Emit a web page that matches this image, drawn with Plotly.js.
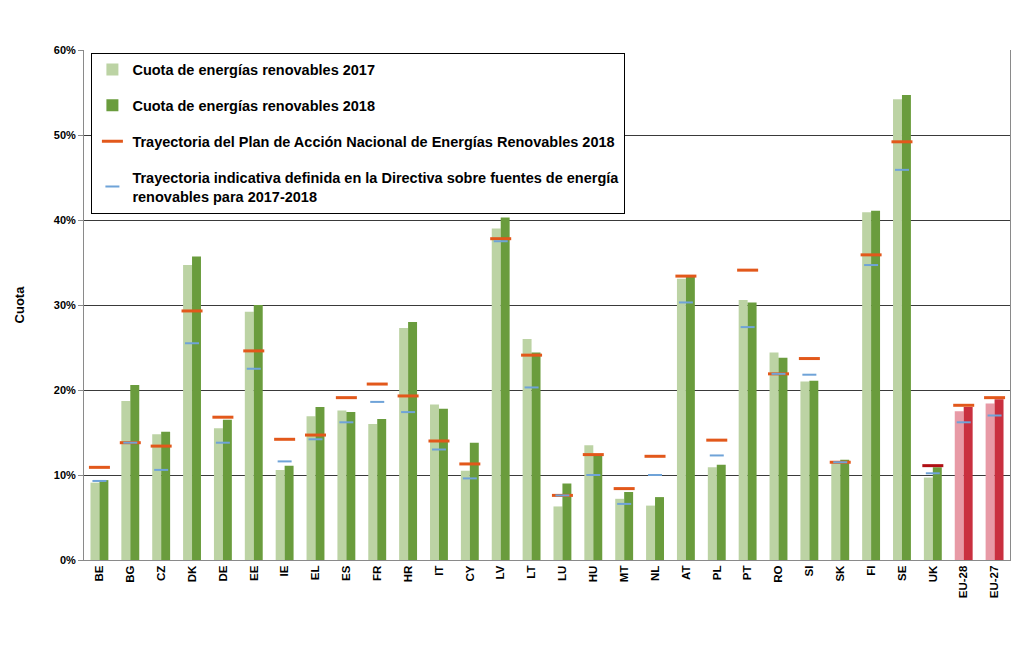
<!DOCTYPE html>
<html>
<head>
<meta charset="utf-8">
<script src="https://cdn.plot.ly/plotly-3.0.1.min.js"></script>
<style>
  html, body { margin: 0; padding: 0; background: #fff; }
  #chart { width: 1024px; height: 669px; }
</style>
</head>
<body>
<div id="chart"></div>
<script>
// países y agregados
var paises = ['BE','BG','CZ','DK','DE','EE','IE','EL','ES','FR','HR','IT','CY','LV','LT','LU','HU','MT','NL','AT','PL','PT','RO','SI','SK','FI','SE','UK','EU-28','EU-27'];

// cuota de renovables (%)
var cuota2017 = [9.1,18.7,14.8,34.7,15.5,29.2,10.6,16.9,17.6,16.0,27.3,18.3,10.5,39.0,26.0,6.3,13.5,7.2,6.4,33.1,10.9,30.6,24.4,21.0,11.5,40.9,54.2,9.7,17.5,18.4];
var cuota2018 = [9.4,20.6,15.1,35.7,16.5,30.0,11.1,18.0,17.4,16.6,28.0,17.8,13.8,40.3,24.4,9.0,12.4,8.0,7.4,33.3,11.2,30.3,23.8,21.1,11.8,41.1,54.7,10.9,18.0,18.9];

// trayectorias 2018 (%)
var trayPANER = [10.9,13.8,13.4,29.3,16.8,24.6,14.2,14.7,19.1,20.7,19.3,14.0,11.3,37.8,24.1,7.6,12.4,8.4,12.2,33.4,14.1,34.1,21.9,23.7,11.5,35.9,49.2,11.1,18.2,19.1];
var trayDirectiva = [9.3,13.8,10.6,25.5,13.8,22.5,11.6,14.2,16.2,18.6,17.4,13.0,9.6,37.5,20.3,7.6,10.0,6.6,10.0,30.3,12.3,27.4,21.9,21.8,11.5,34.7,45.9,10.2,16.2,17.0];

function colores(normal, ue, uk)
{
    var c = [];
    for (var i = 0; i < paises.length; i++)
    {
        if (paises[i].indexOf('EU') === 0) c.push(ue);
        else if (paises[i] === 'UK' && uk) c.push(uk);
        else c.push(normal);
    }
    return c;
}

var fuente = 'Liberation Sans Narrow, Arial Narrow, Liberation Sans, Arial, sans-serif';

var traza2017 = {
    x: paises, y: cuota2017, type: 'bar',
    name: 'Cuota de energías renovables 2017',
    legendgroup: 'a',
    marker: {color: colores('#bcd3a4', '#e89aa6')}
};
var traza2018 = {
    x: paises, y: cuota2018, type: 'bar',
    name: 'Cuota de energías renovables 2018',
    legendgroup: 'b',
    marker: {color: colores('#6a9c3d', '#c9303f')}
};
var trazaPANER = {
    x: paises, y: trayPANER, type: 'scatter', mode: 'markers',
    name: 'Trayectoria del Plan de Acción Nacional de Energías Renovables 2018',
    legendgroup: 'c',
    marker: {symbol: 'line-ew', size: 15, line: {width: 3, color: colores('#e2581b', '#e2581b', '#b00f14')}}
};
var trazaDir = {
    x: paises, y: trayDirectiva, type: 'scatter', mode: 'markers',
    name: 'Trayectoria indicativa definida en la Directiva sobre fuentes de energía<br>renovables para 2017-2018',
    legendgroup: 'd',
    marker: {symbol: 'line-ew', size: 10, line: {width: 2, color: '#6fa3d8'}}
};

var layout = {
    width: 1024, height: 669,
    margin: {l: 84, r: 14, t: 50, b: 109},
    paper_bgcolor: '#fff', plot_bgcolor: '#fff',
    barmode: 'group', bargap: 0.42, bargroupgap: 0,
    font: {family: fuente, color: '#000'},
    showlegend: true,
    legend: {
        x: 0.008, y: 0.995, xanchor: 'left', yanchor: 'top',
        bgcolor: '#fff', bordercolor: '#000', borderwidth: 1,
        font: {size: 14.5, family: fuente, weight: 'bold'},
        traceorder: 'grouped', tracegroupgap: 14,
        itemwidth: 30
    },
    xaxis: {
        type: 'category', tickangle: -90,
        range: [-0.5, paises.length - 0.5],
        tickfont: {size: 11.5, weight: 'bold'},
        showline: true, linecolor: '#8a8a8a', linewidth: 1,
        ticks: '', showgrid: false
    },
    yaxis: {
        range: [0, 60], dtick: 10, ticksuffix: '%',
        tickfont: {size: 11, weight: 'bold'},
        showgrid: true, gridcolor: '#3a3a3a', gridwidth: 1,
        showline: true, linecolor: '#8a8a8a', linewidth: 1, mirror: true,
        ticks: 'outside', ticklen: 5, tickcolor: '#8a8a8a',
        zeroline: false,
        title: {text: 'Cuota', font: {size: 13, weight: 'bold'}, standoff: 26}
    }
};

Plotly.newPlot('chart', [traza2017, traza2018, trazaPANER, trazaDir], layout, {displayModeBar: false, staticPlot: true});
</script>
</body>
</html>
